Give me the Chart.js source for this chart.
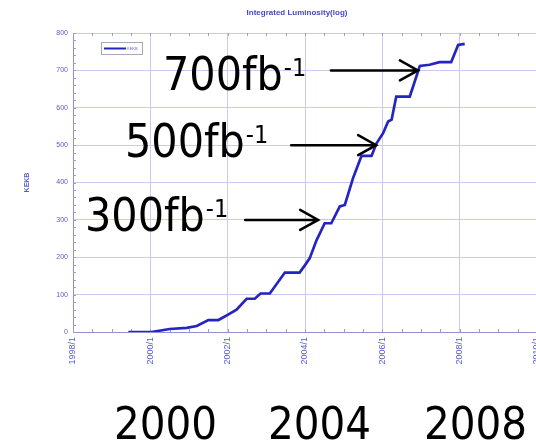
<!DOCTYPE html>
<html><head><meta charset="utf-8">
<script src="https://cdn.jsdelivr.net/npm/chart.js@4.4.1/dist/chart.umd.min.js"></script>
<style>
html,body{margin:0;padding:0;background:#fff;}
#wrap{position:relative;width:536px;height:442px;overflow:hidden;background:#fff;}
#c{position:absolute;left:0;top:0;}
.ann{position:absolute;font-family:"DejaVu Sans Condensed","DejaVu Sans",sans-serif;font-stretch:condensed;color:#000;line-height:1;white-space:nowrap;}
.ann sup{font-size:25px;position:relative;top:-14px;vertical-align:baseline;line-height:1;margin-left:1px;}
</style></head><body>
<div id="wrap">
<canvas id="c" width="560" height="442" style="width:560px;height:442px"></canvas>
<div class="ann" style="left:163px;top:51px;font-size:46px">700fb<sup>-1</sup></div>
<div class="ann" style="left:125px;top:118px;font-size:46px">500fb<sup>-1</sup></div>
<div class="ann" style="left:85px;top:192px;font-size:46px">300fb<sup>-1</sup></div>
<div class="ann" style="left:114px;top:401px;font-size:45px">2000</div>
<div class="ann" style="left:268px;top:401px;font-size:45px">2004</div>
<div class="ann" style="left:424px;top:401px;font-size:45px">2008</div>
</div>
<script>
// ---- data ----
const years = [1999.43, 2000.03, 2000.5, 2000.94, 2001.2, 2001.5, 2001.76, 2002.0, 2002.23, 2002.49, 2002.7, 2002.85, 2003.09, 2003.48, 2003.86, 2004.0, 2004.12, 2004.3, 2004.51, 2004.68, 2004.9, 2005.03, 2005.24, 2005.46, 2005.72, 2005.85, 2006.02, 2006.15, 2006.24, 2006.36, 2006.71, 2006.97, 2007.22, 2007.48, 2007.78, 2007.96, 2008.13];
const kekb = [0, 0, 8, 11, 16, 32, 32, 46, 60, 89, 89, 103, 103, 159, 159, 179, 197, 246, 291, 291, 336, 340, 411, 471, 471, 505, 532, 563, 568, 630, 630, 712, 715, 722, 722, 768, 771];
const xTickYears = [1998, 2000, 2002, 2004, 2006, 2008, 2010];
const xTickLabels = ['1998/1', '2000/1', '2002/1', '2004/1', '2006/1', '2008/1', '2010/1'];
const seriesName = 'KEKB';
const chartTitle = 'Integrated Luminosity(log)';
const arrowValues = [700, 500, 300];
const arrowYears = [2006.92, 2005.84, 2004.34];

const arrowLens = [87, 85, 73];
const blue = '#2424c0';
const axisText = '#5a5ad0';

const overlay = {
  id: 'overlay',
  beforeDatasetsDraw(chart) {
    const {ctx, chartArea: a, scales: {x, y}} = chart;
    ctx.save();
    ctx.strokeStyle = '#9a9ad8';
    ctx.lineWidth = 1;
    ctx.beginPath();
    for (let v = 0; v <= 800; v += 20) {
      const py = Math.round(y.getPixelForValue(v)) + 0.5;
      ctx.moveTo(a.left, py); ctx.lineTo(a.left + 3, py);
    }
    for (let t = 1998; t <= 2010; t += 0.5) {
      const px = Math.round(x.getPixelForValue(t)) + 0.5;
      ctx.moveTo(px, a.bottom); ctx.lineTo(px, a.bottom - 3);
      ctx.moveTo(px, a.top); ctx.lineTo(px, a.top + 3);
    }
    ctx.stroke();
    ctx.restore();
  },
  afterDraw(chart) {
    const {ctx, chartArea: a, scales: {x, y}} = chart;
    ctx.save();
    // title
    ctx.font = 'bold 8px "Liberation Sans", Arial, sans-serif';
    ctx.fillStyle = '#4646c8';
    ctx.textAlign = 'center';
    ctx.textBaseline = 'middle';
    ctx.fillText(chartTitle, 297, 13);
    // legend
    ctx.fillStyle = '#fff';
    ctx.strokeStyle = '#a8a8b8';
    ctx.lineWidth = 1;
    ctx.fillRect(101.5, 42.5, 41, 12);
    ctx.strokeRect(101.5, 42.5, 41, 12);
    ctx.strokeStyle = blue;
    ctx.lineWidth = 2;
    ctx.beginPath(); ctx.moveTo(104, 48.5); ctx.lineTo(126, 48.5); ctx.stroke();
    ctx.font = '4px "Liberation Sans", Arial, sans-serif';
    ctx.fillStyle = '#6a6ad0';
    ctx.textAlign = 'left';
    ctx.fillText(seriesName, 127, 49);
    // arrows
    ctx.strokeStyle = '#000';
    ctx.lineWidth = 2.5;
    ctx.lineCap = 'round';
    arrowValues.forEach((v, i) => {
      const tx = x.getPixelForValue(arrowYears[i]);
      const ty = y.getPixelForValue(v);
      ctx.beginPath();
      ctx.moveTo(tx - arrowLens[i], ty); ctx.lineTo(tx, ty);
      ctx.moveTo(tx - 18, ty - 10); ctx.lineTo(tx, ty); ctx.lineTo(tx - 18, ty + 10);
      ctx.stroke();
    });
    ctx.restore();
  }
};

new Chart(document.getElementById('c'), {
  type: 'line',
  data: {
    datasets: [{
      label: seriesName,
      data: years.map((t, i) => ({x: t, y: kekb[i]})),
      borderColor: blue,
      borderWidth: 2.7,
      pointRadius: 0,
      tension: 0,
      fill: false
    }]
  },
  options: {
    responsive: false,
    animation: false,
    layout: {padding: {top: 33, right: 23, bottom: 70, left: 0}},
    plugins: {legend: {display: false}, title: {display: false}, tooltip: {enabled: false}},
    scales: {
      x: {
        type: 'linear', min: 1998, max: 2010,
        afterBuildTicks: s => { s.ticks = xTickYears.map(v => ({value: v})); },
        ticks: {
          autoSkip: false, maxRotation: 90, minRotation: 90, padding: 5,
          color: axisText, font: {size: 9, family: '"Liberation Sans", Arial, sans-serif'},
          callback: (v) => { const i = xTickYears.indexOf(v); return i >= 0 ? xTickLabels[i] : ''; }
        },
        grid: {color: '#cacaf0', lineWidth: 1, drawTicks: false},
        border: {color: '#9090d8', width: 1},
        afterFit: s => { s.height = 40; }
      },
      y: {
        min: 0, max: 800,
        ticks: {stepSize: 100, padding: 5, color: axisText, font: {size: 7, family: '"Liberation Sans", Arial, sans-serif'}},
        grid: {color: '#cacaf0', lineWidth: 1, drawTicks: false},
        border: {color: '#9090d8', width: 1},
        title: {display: true, text: seriesName, color: axisText, padding: {top: 23, bottom: 0}, font: {size: 7, weight: 'bold', family: '"Liberation Sans", Arial, sans-serif'}},
        afterFit: s => { s.width = 73; }
      }
    }
  },
  plugins: [overlay]
});
</script>
</body></html>
